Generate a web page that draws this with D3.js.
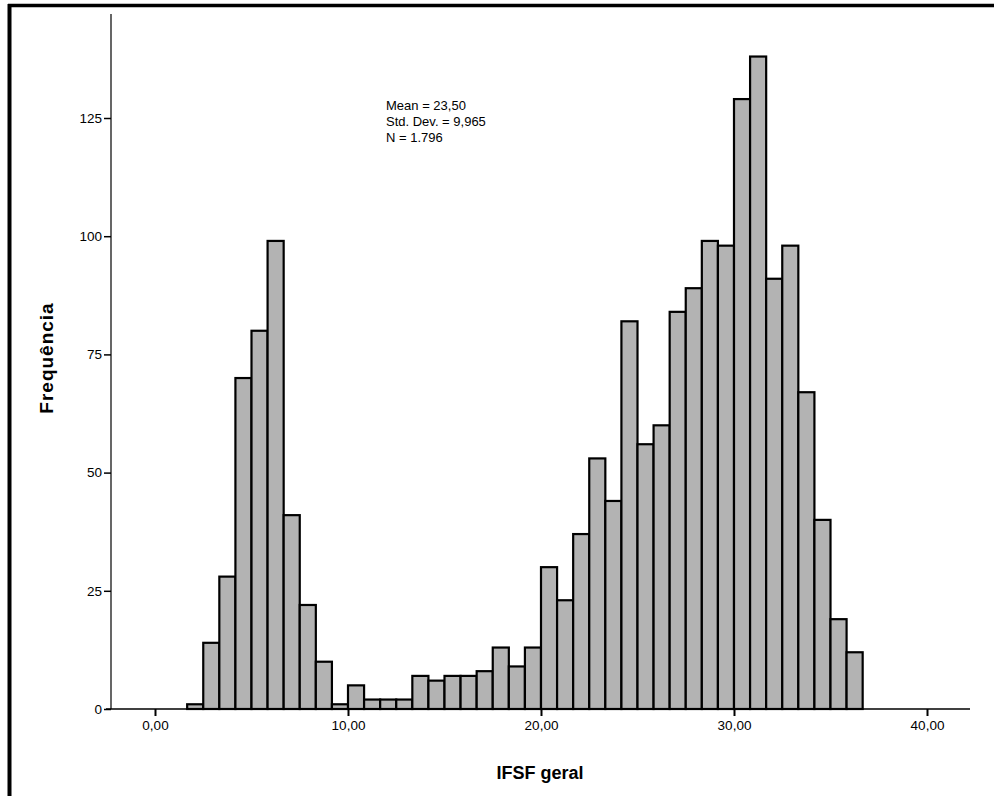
<!DOCTYPE html>
<html>
<head>
<meta charset="utf-8">
<script src="https://cdn.jsdelivr.net/npm/d3@7"></script>
<style>
  body { margin: 0; background: #fff; }
  text { font-family: "Liberation Sans", Arial, sans-serif; }
</style>
</head>
<body>
<div id="chart"></div>
<script>
var svgWidth = 994;
var svgHeight = 796;

// bins are 10/12 units wide, counted from 0
var binWidth = 10 / 12;
var binStart = [2, 3, 4, 5, 6, 7, 8, 9, 10, 11, 12, 13, 14, 15, 16, 17, 18, 19, 20, 21, 22, 23,
  24, 25, 26, 27, 28, 29, 30, 31, 32, 33, 34, 35, 36, 37, 38, 39, 40, 41, 42, 43];
var counts = [1, 14, 28, 70, 80, 99, 41, 22, 10, 1, 5, 2, 2, 2, 7, 6, 7, 7, 8, 13, 9, 13,
  30, 23, 37, 53, 44, 82, 56, 60, 84, 89, 99, 98, 129, 138, 91, 98, 67, 40, 19, 12];
var xTicks = [0, 10, 20, 30, 40];
var yTicks = [0, 25, 50, 75, 100, 125];
var statsLines = ["Mean = 23,50", "Std. Dev. = 9,965", "N = 1.796"];

var bins = binStart.map(function(b, i) {
  return { x0: b * binWidth, x1: (b + 1) * binWidth, n: counts[i] };
});

var svg = d3.select("#chart")
  .append("svg")
  .attr("width", svgWidth)
  .attr("height", svgHeight);

// outer frame (top and left edges only are visible)
svg.append("line").attr("x1", 8).attr("x2", svgWidth).attr("y1", 5.5).attr("y2", 5.5)
  .attr("stroke", "#000").attr("stroke-width", 3.5);
svg.append("line").attr("x1", 9.5).attr("x2", 9.5).attr("y1", 4).attr("y2", svgHeight)
  .attr("stroke", "#000").attr("stroke-width", 4);

var xScale = d3.scaleLinear()
  .domain([0, 40])
  .range([155, 927]);

var yScale = d3.scaleLinear()
  .domain([0, 125])
  .range([709, 118]);

var axisLeftX = 111;
var axisTopY = 14;
var axisRightX = 970;

// bars
svg.append("g")
  .selectAll("rect")
  .data(bins)
  .enter()
  .append("rect")
  .attr("x", d => xScale(d.x0))
  .attr("y", d => yScale(d.n))
  .attr("width", d => xScale(d.x1) - xScale(d.x0))
  .attr("height", d => yScale(0) - yScale(d.n))
  .attr("fill", "#b3b3b3")
  .attr("stroke", "#000")
  .attr("stroke-width", 2.2);

// y axis
var yAxis = d3.axisLeft(yScale)
  .tickValues(yTicks)
  .tickSize(7)
  .tickPadding(2)
  .tickFormat(d3.format("d"));

var gy = svg.append("g")
  .attr("transform", `translate(${axisLeftX},0)`)
  .call(yAxis);
gy.select(".domain").remove();
gy.append("line")
  .attr("x1", 0).attr("x2", 0)
  .attr("y1", axisTopY).attr("y2", yScale(0))
  .attr("stroke", "#000").attr("stroke-width", 1.2);
gy.selectAll(".tick line").attr("stroke", "#000").attr("stroke-width", 1.5);
gy.selectAll(".tick text")
  .attr("fill", "#000")
  .style("font-size", "13.5px");

// x axis
var xAxis = d3.axisBottom(xScale)
  .tickValues(xTicks)
  .tickSize(7)
  .tickPadding(4)
  .tickFormat(d => d3.format(".2f")(d).replace(".", ","));

var gx = svg.append("g")
  .attr("transform", `translate(0,${yScale(0)})`)
  .call(xAxis);
gx.select(".domain").remove();
gx.append("line")
  .attr("x1", axisLeftX - 5).attr("x2", axisRightX)
  .attr("y1", 0).attr("y2", 0)
  .attr("stroke", "#000").attr("stroke-width", 1.5);
gx.selectAll(".tick line").attr("stroke", "#000").attr("stroke-width", 2);
gx.selectAll(".tick text")
  .attr("fill", "#000")
  .style("font-size", "13.5px");

// stats box
svg.append("text")
  .style("font-size", "13px")
  .selectAll("tspan")
  .data(statsLines)
  .enter()
  .append("tspan")
  .attr("x", 386)
  .attr("y", (d, i) => 110 + i * 16)
  .text(d => d);

// axis titles
svg.append("text")
  .attr("transform", "translate(53,358) rotate(-90)")
  .style("text-anchor", "middle")
  .style("font-size", "19px")
  .style("font-weight", "bold")
  .style("letter-spacing", "1px")
  .text("Frequência");

svg.append("text")
  .attr("x", 540)
  .attr("y", 779)
  .style("text-anchor", "middle")
  .style("font-size", "18px")
  .style("font-weight", "bold")
  .text("IFSF geral");
</script>
</body>
</html>
